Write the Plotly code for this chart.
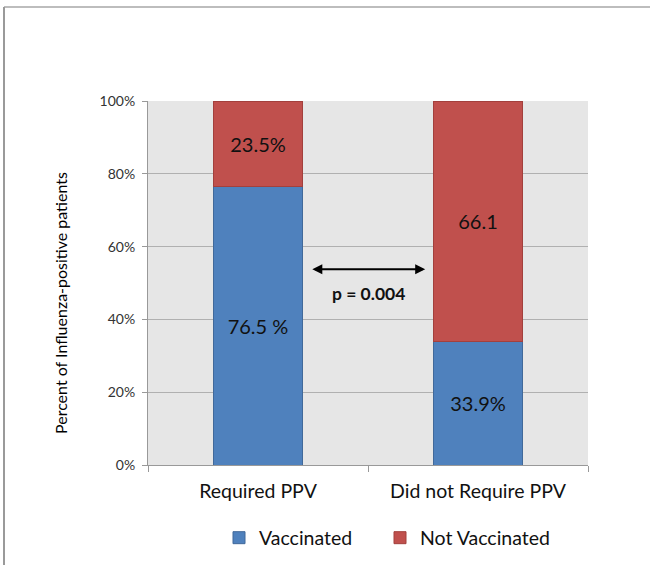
import plotly.graph_objects as go

# Share of influenza-positive patients by vaccination status
categories = ["Required PPV", "Did not Require PPV"]
vaccinated = [76.5, 33.9]
not_vaccinated = [23.5, 66.1]
vaccinated_labels = ["76.5 %", "33.9%"]
not_vaccinated_labels = ["23.5%", "66.1"]
y_ticks = [0, 20, 40, 60, 80, 100]
y_tick_labels = ["0%", "20%", "40%", "60%", "80%", "100%"]
p_value_text = "p = 0.004"

BLUE = "#4F81BD"
RED = "#C0504D"
FONT = "Lato"

fig = go.Figure()
fig.add_trace(go.Bar(
    x=categories, y=vaccinated, name="Vaccinated",
    text=vaccinated_labels, textposition="inside", insidetextanchor="middle",
    textfont=dict(size=20, color="#111111", family=FONT),
    marker=dict(color=BLUE, line=dict(color="#41699A", width=1)),
    width=0.405, legend="legend",
))
fig.add_trace(go.Bar(
    x=categories, y=not_vaccinated, name="Not Vaccinated",
    text=not_vaccinated_labels, textposition="inside", insidetextanchor="middle",
    textfont=dict(size=20, color="#111111", family=FONT),
    marker=dict(color=RED, line=dict(color="#A3403D", width=1)),
    width=0.405, legend="legend2",
))

# Double-headed arrow between the two groups, with the p-value beneath
fig.add_annotation(
    x=0.76, y=53.8, ax=0.24, ay=53.8, xref="x", yref="y", axref="x", ayref="y",
    text="", showarrow=True, arrowhead=2, arrowside="end+start",
    arrowsize=1, arrowwidth=2, arrowcolor="#000000",
)
fig.add_annotation(
    x=0.5, y=47.2, xref="x", yref="y", text="<b>%s</b>" % p_value_text,
    showarrow=False, font=dict(size=17.5, color="#111111", family=FONT),
)

# Y-axis title
fig.add_annotation(
    x=(60 - 148) / 440, y=(465 - 303) / 364, xref="paper", yref="paper",
    xanchor="center", yanchor="middle",
    text="Percent of Influenza-positive patients", textangle=-90,
    showarrow=False, font=dict(size=16, color="#000000", family=FONT),
)

# Outer chart frame (top and left edges)
frame_x0 = (4 - 148) / 440
frame_y0 = (465 - 7) / 364
fig.add_shape(type="line", xref="paper", yref="paper",
              x0=frame_x0, y0=frame_y0, x1=(652 - 148) / 440, y1=frame_y0,
              line=dict(color="#BDBDBD", width=2))
fig.add_shape(type="line", xref="paper", yref="paper",
              x0=frame_x0, y0=frame_y0, x1=frame_x0, y1=(465 - 567) / 364,
              line=dict(color="#9A9A9A", width=2))

legend_style = dict(
    orientation="h", xanchor="left",
    yref="container", y=1 - 538 / 565, yanchor="middle",
    font=dict(size=19.5, family=FONT, color="#111111"),
    itemwidth=30, bgcolor="rgba(0,0,0,0)",
)

fig.update_layout(
    width=650, height=565,
    margin=dict(l=148, r=62, t=101, b=100, autoexpand=False),
    paper_bgcolor="#FFFFFF", plot_bgcolor="#E6E6E6",
    barmode="stack", bargap=0.595,
    font=dict(family=FONT, color="#000000"),
    showlegend=True,
    legend=dict(legend_style, x=(219 - 148) / 440),
    legend2=dict(legend_style, x=(380 - 148) / 440),
)
fig.update_xaxes(
    type="category", showline=True, linecolor="#999999", linewidth=1,
    ticks="outside", tickson="boundaries", ticklen=6, tickcolor="#999999",
    tickfont=dict(size=19.5, family=FONT, color="#111111"),
    ticklabelstandoff=9, showgrid=False, zeroline=False,
)
fig.update_yaxes(
    range=[0, 100], tickvals=y_ticks, ticktext=y_tick_labels,
    showline=True, linecolor="#999999", linewidth=1,
    ticks="outside", ticklen=5, tickcolor="#999999",
    tickfont=dict(size=14, family=FONT, color="#333333"),
    ticklabelstandoff=4,
    showgrid=True, gridcolor="#B0B0B0", gridwidth=1, zeroline=False,
)

fig.write_html("out.html")
